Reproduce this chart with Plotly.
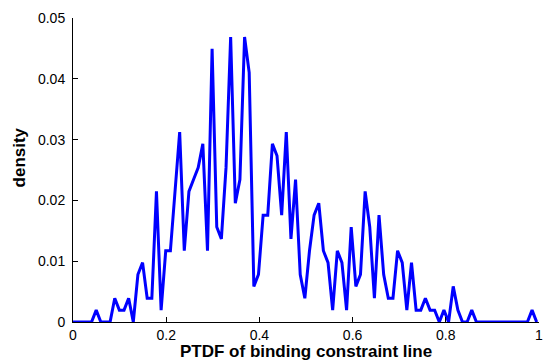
import plotly.graph_objects as go

# Bin positions of the PTDF histogram (x axis)
ptdf_bins = [
    0.0000, 0.0100, 0.0199, 0.0299, 0.0398, 0.0498, 0.0597, 0.0697, 0.0796, 0.0896,
    0.0995, 0.1095, 0.1194, 0.1294, 0.1393, 0.1493, 0.1592, 0.1692, 0.1791, 0.1891,
    0.1990, 0.2090, 0.2189, 0.2289, 0.2388, 0.2488, 0.2587, 0.2687, 0.2786, 0.2886,
    0.2985, 0.3085, 0.3184, 0.3284, 0.3383, 0.3483, 0.3582, 0.3682, 0.3781, 0.3881,
    0.3980, 0.4080, 0.4179, 0.4279, 0.4378, 0.4478, 0.4577, 0.4677, 0.4776, 0.4876,
    0.4975, 0.5075, 0.5174, 0.5274, 0.5373, 0.5473, 0.5572, 0.5672, 0.5771, 0.5871,
    0.5970, 0.6070, 0.6169, 0.6269, 0.6368, 0.6468, 0.6567, 0.6667, 0.6766, 0.6866,
    0.6965, 0.7065, 0.7164, 0.7264, 0.7363, 0.7463, 0.7562, 0.7662, 0.7761, 0.7861,
    0.7960, 0.8060, 0.8159, 0.8259, 0.8358, 0.8458, 0.8557, 0.8657, 0.8756, 0.8856,
    0.8955, 0.9055, 0.9154, 0.9254, 0.9353, 0.9453, 0.9552, 0.9652, 0.9751, 0.9851,
    0.9950,
]

# Number of samples falling in each bin
bin_counts = [
    0, 0, 0, 0, 0, 1, 0, 0, 0, 2,
    1, 1, 2, 0, 4, 5, 2, 2, 11, 1,
    6, 6, 11, 16, 6, 11, 12, 13, 15, 6,
    23, 8, 7, 13, 24, 10, 12, 24, 21, 3,
    4, 9, 9, 15, 14, 9, 16, 7, 12, 4,
    2, 6, 9, 10, 6, 5, 1, 6, 5, 1,
    8, 3, 4, 11, 8, 2, 9, 4, 2, 2,
    6, 5, 1, 5, 1, 1, 2, 1, 1, 0,
    1, 0, 3, 1, 0, 0, 1, 0, 0, 0,
    0, 0, 0, 0, 0, 0, 0, 0, 0, 1,
    0,
]
n_samples = 512

x_ticks = [0, 0.2, 0.4, 0.6, 0.8, 1.0]
x_tick_labels = ["0", "0.2", "0.4", "0.6", "0.8", "1"]
y_ticks = [0, 0.01, 0.02, 0.03, 0.04, 0.05]
y_tick_labels = ["0", "0.01", "0.02", "0.03", "0.04", "0.05"]

density = [c / n_samples for c in bin_counts]

FONT = "Liberation Sans, Arial, Helvetica, sans-serif"
W, H = 546, 363
L, R, T, B = 73, 3, 18, 41

fig = go.Figure()
fig.add_trace(go.Scatter(
    x=ptdf_bins, y=density, mode="lines",
    line=dict(color="#0000FF", width=3),
    showlegend=False, hoverinfo="skip",
))

axis_common = dict(
    showgrid=False, zeroline=False, showline=True, linecolor="black", linewidth=1,
    ticks="inside", ticklen=5, tickwidth=1, tickcolor="black", mirror=False,
    tickfont=dict(family=FONT, size=14, color="black"),
    ticklabeloverflow="allow",
)
fig.update_xaxes(range=[0, 1], tickvals=x_ticks, ticktext=x_tick_labels, **axis_common)
fig.update_yaxes(range=[0, 0.05], tickvals=y_ticks, ticktext=y_tick_labels,
                 ticklabelstandoff=4, **axis_common)

plot_w = W - L - R
plot_h = H - T - B
fig.update_layout(
    width=W, height=H,
    margin=dict(l=L, r=R, t=T, b=B, pad=0),
    paper_bgcolor="white", plot_bgcolor="white",
    annotations=[
        dict(text="<b>PTDF of binding constraint line</b>", xref="paper", yref="paper",
             x=0.5, y=(0 - 29) / plot_h, xanchor="center", yanchor="middle",
             showarrow=False, font=dict(family=FONT, size=17, color="black")),
        dict(text="<b>density</b>", xref="paper", yref="paper",
             x=(19 - L) / plot_w, y=(plot_h - (157 - T)) / plot_h,
             xanchor="center", yanchor="middle", textangle=-90,
             showarrow=False, font=dict(family=FONT, size=17, color="black")),
    ],
)

fig.write_html("out.html")
